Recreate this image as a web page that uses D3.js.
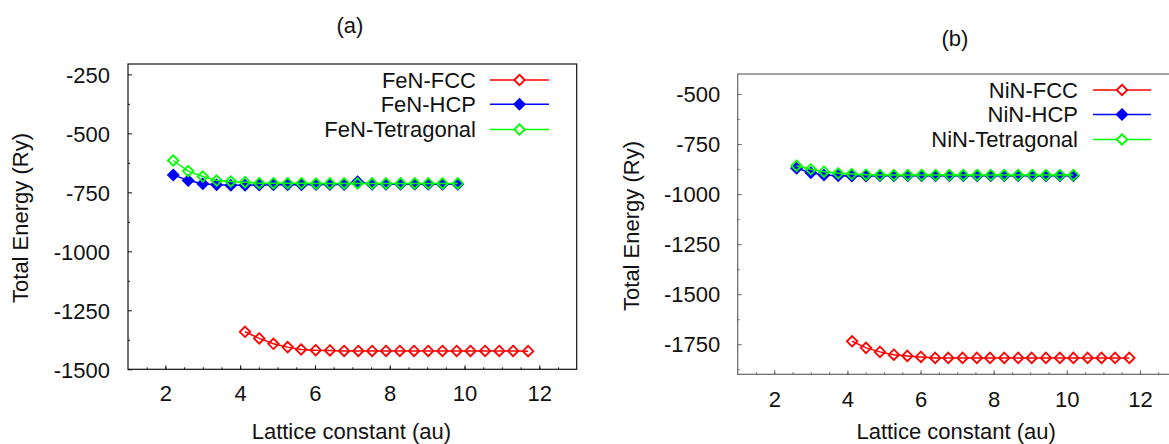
<!DOCTYPE html>
<html>
<head>
<meta charset="utf-8">
<script src="https://cdn.jsdelivr.net/npm/d3@7"></script>
<style>
  body { margin: 0; background: #fff; }
  svg { display: block; font-family: "Liberation Sans", Arial, sans-serif; }
</style>
</head>
<body>
<div id="chart"></div>
<script>
// panel (a) FeN
const feFccA = [4.13, 4.51, 4.89, 5.27, 5.63, 6.02, 6.40, 6.78, 7.16, 7.53, 7.90, 8.27, 8.65, 9.03, 9.41, 9.79, 10.16, 10.55, 10.93, 11.30, 11.70];
const feFccE = [-1341, -1369, -1392, -1406, -1416, -1419, -1420, -1422, -1422, -1422, -1422, -1422, -1422, -1422, -1422, -1422, -1422, -1422, -1422, -1422, -1423];
const feHcpA = [2.21, 2.61, 3.00, 3.37, 3.75, 4.13, 4.51, 4.89, 5.27, 5.64, 6.03, 6.40, 6.78, 7.14, 7.53, 7.90, 8.29, 8.67, 9.03, 9.41, 9.82];
const feHcpE = [-676, -700, -714, -718, -720, -720, -719, -718, -718, -718, -717, -717, -717, -705, -716, -716, -716, -716, -716, -716, -716];
const feTetA = feHcpA;
const feTetE = [-615, -660, -683, -700, -704, -707, -711, -711, -711, -711, -713, -712, -712, -712, -712, -712, -712, -712, -712, -712, -712];

// panel (b) NiN
const niFccA = [4.13, 4.51, 4.89, 5.27, 5.64, 6.01, 6.40, 6.76, 7.15, 7.54, 7.90, 8.29, 8.67, 9.04, 9.43, 9.81, 10.18, 10.57, 10.95, 11.32, 11.71];
const niFccE = [-1735, -1768, -1788, -1802, -1808, -1813, -1818, -1818, -1818, -1818, -1818, -1818, -1818, -1818, -1818, -1818, -1818, -1818, -1818, -1818, -1818];
const niHcpA = [2.61, 3.00, 3.36, 3.75, 4.12, 4.51, 4.89, 5.27, 5.65, 6.03, 6.41, 6.79, 7.17, 7.55, 7.92, 8.29, 8.67, 9.06, 9.43, 9.81, 10.18];
const niHcpE = [-871, -893, -905, -908, -910, -909, -908, -908, -908, -908, -908, -908, -908, -908, -908, -908, -908, -908, -908, -908, -908];
const niTetA = niHcpA;
const niTetE = [-858, -876, -888, -896, -900, -903, -905, -905, -905, -905, -905, -905, -905, -905, -905, -905, -905, -905, -905, -905, -905];

const xTicks = [2, 4, 6, 8, 10, 12];
const yTicksA = [-250, -500, -750, -1000, -1250, -1500];
const yTicksB = [-500, -750, -1000, -1250, -1500, -1750];

const W = 1169, H = 444;
const svg = d3.select("#chart").append("svg").attr("width", W).attr("height", H);

const zip = (a, e) => a.map((v, i) => ({ a: v, e: e[i] }));
const diamond = d3.symbol().type(d3.symbolDiamond2).size(70);
const fmt = (d) => String(d); // plain hyphen-minus like the original

function panel(o) {
  const x = d3.scaleLinear().domain([1, 13]).range([o.left, o.right]);
  const y = d3.scaleLinear().domain(o.yDomain).range([o.bottom, o.top]);
  const g = svg.append("g");

  // minor ticks
  const xMinor = d3.range(1.5, 13, 0.5);
  g.append("g")
    .attr("transform", `translate(0,${o.bottom})`)
    .call(d3.axisBottom(x).tickValues(xMinor).tickSize(-2).tickFormat(""))
    .call((s) => s.select(".domain").remove())
    .selectAll("line").attr("stroke", o.frame);
  g.append("g")
    .attr("transform", `translate(${o.left},0)`)
    .call(d3.axisLeft(y).tickValues(o.yMinor).tickSize(-2).tickFormat(""))
    .call((s) => s.select(".domain").remove())
    .selectAll("line").attr("stroke", o.frame);

  // major ticks + labels
  const xa = g.append("g")
    .attr("transform", `translate(0,${o.bottom})`)
    .call(d3.axisBottom(x).tickValues(xTicks).tickSize(-4).tickPadding(o.xPad).tickFormat(fmt));
  const ya = g.append("g")
    .attr("transform", `translate(${o.left},0)`)
    .call(d3.axisLeft(y).tickValues(o.yTicks).tickSize(-4).tickPadding(o.yPad).tickFormat(fmt));
  [xa, ya].forEach((a) => {
    a.select(".domain").remove();
    a.selectAll("line").attr("stroke", o.frame);
    a.selectAll("text").attr("font-size", 22).attr("font-family", "Liberation Sans, Arial, sans-serif").attr("fill", "#111");
  });
  ya.selectAll("text").attr("dy", "0.35em");

  g.append("rect")
    .attr("x", o.left).attr("y", o.top)
    .attr("width", o.right - o.left).attr("height", o.bottom - o.top)
    .attr("fill", "none").attr("stroke", o.frame).attr("stroke-width", 1.2);

  const line = d3.line().x((d) => x(d.a)).y((d) => y(d.e));
  o.series.forEach((s) => {
    const data = zip(s.a, s.e);
    g.append("path").datum(data)
      .attr("d", line).attr("fill", "none")
      .attr("stroke", s.color).attr("stroke-width", 1.5);
    g.selectAll(null).data(data).enter().append("path")
      .attr("d", diamond)
      .attr("transform", (d) => `translate(${x(d.a)},${y(d.e)})`)
      .attr("fill", s.filled ? s.color : "none")
      .attr("stroke", s.color).attr("stroke-width", 1.8);
  });

  // legend
  o.series.forEach((s, i) => {
    const ly = o.legY[i];
    g.append("text")
      .attr("x", o.legTextX).attr("y", ly + 7.5)
      .attr("text-anchor", "end").attr("font-size", 22).attr("fill", "#111")
      .text(s.name);
    g.append("line")
      .attr("x1", o.legLine[0]).attr("x2", o.legLine[1])
      .attr("y1", ly).attr("y2", ly)
      .attr("stroke", s.color).attr("stroke-width", 1.5);
    g.append("path")
      .attr("d", diamond)
      .attr("transform", `translate(${(o.legLine[0] + o.legLine[1]) / 2},${ly})`)
      .attr("fill", s.filled ? s.color : "#fff")
      .attr("stroke", s.color).attr("stroke-width", 1.8);
  });

  // titles
  g.append("text")
    .attr("x", o.titleX).attr("y", o.titleY)
    .attr("text-anchor", "middle").attr("font-size", 22).attr("fill", "#111")
    .text(o.title);
  g.append("text")
    .attr("x", (o.left + o.right) / 2 + o.xLabDx).attr("y", o.xLabY)
    .attr("text-anchor", "middle").attr("font-size", 22).attr("fill", "#111")
    .text("Lattice constant (au)");
  g.append("text")
    .attr("transform", `translate(${o.yLabX},${o.yLabY}) rotate(-90)`)
    .attr("text-anchor", "middle").attr("font-size", 22).attr("fill", "#111")
    .text("Total Energy (Ry)");
}

panel({
  left: 128, right: 576.7, top: 64, bottom: 369.3,
  yDomain: [-1500, -206],
  yTicks: yTicksA,
  yMinor: [-1375, -1125, -875, -625, -375],
  frame: "#111", xPad: 16, yPad: 18,
  series: [
    { name: "FeN-FCC", a: feFccA, e: feFccE, color: "#ff0000", filled: false },
    { name: "FeN-HCP", a: feHcpA, e: feHcpE, color: "#0000ff", filled: true },
    { name: "FeN-Tetragonal", a: feTetA, e: feTetE, color: "#00ff00", filled: false }
  ],
  legY: [80, 104.3, 129.5], legTextX: 476, legLine: [490, 549],
  title: "(a)", titleX: 350, titleY: 33,
  xLabDx: -1, xLabY: 439, yLabX: 28, yLabY: 218
});

panel({
  left: 737.7, right: 1176.5, top: 74, bottom: 374.3,
  yDomain: [-1900, -400],
  yTicks: yTicksB,
  yMinor: [-1875, -1625, -1375, -1125, -875, -625],
  frame: "#666", xPad: 17, yPad: 17.5,
  series: [
    { name: "NiN-FCC", a: niFccA, e: niFccE, color: "#ff0000", filled: false },
    { name: "NiN-HCP", a: niHcpA, e: niHcpE, color: "#0000ff", filled: true },
    { name: "NiN-Tetragonal", a: niTetA, e: niTetE, color: "#00ff00", filled: false }
  ],
  legY: [90, 114.5, 139.5], legTextX: 1078, legLine: [1093, 1151],
  title: "(b)", titleX: 955, titleY: 46,
  xLabDx: -1, xLabY: 439, yLabX: 639, yLabY: 226
});
</script>
</body>
</html>
